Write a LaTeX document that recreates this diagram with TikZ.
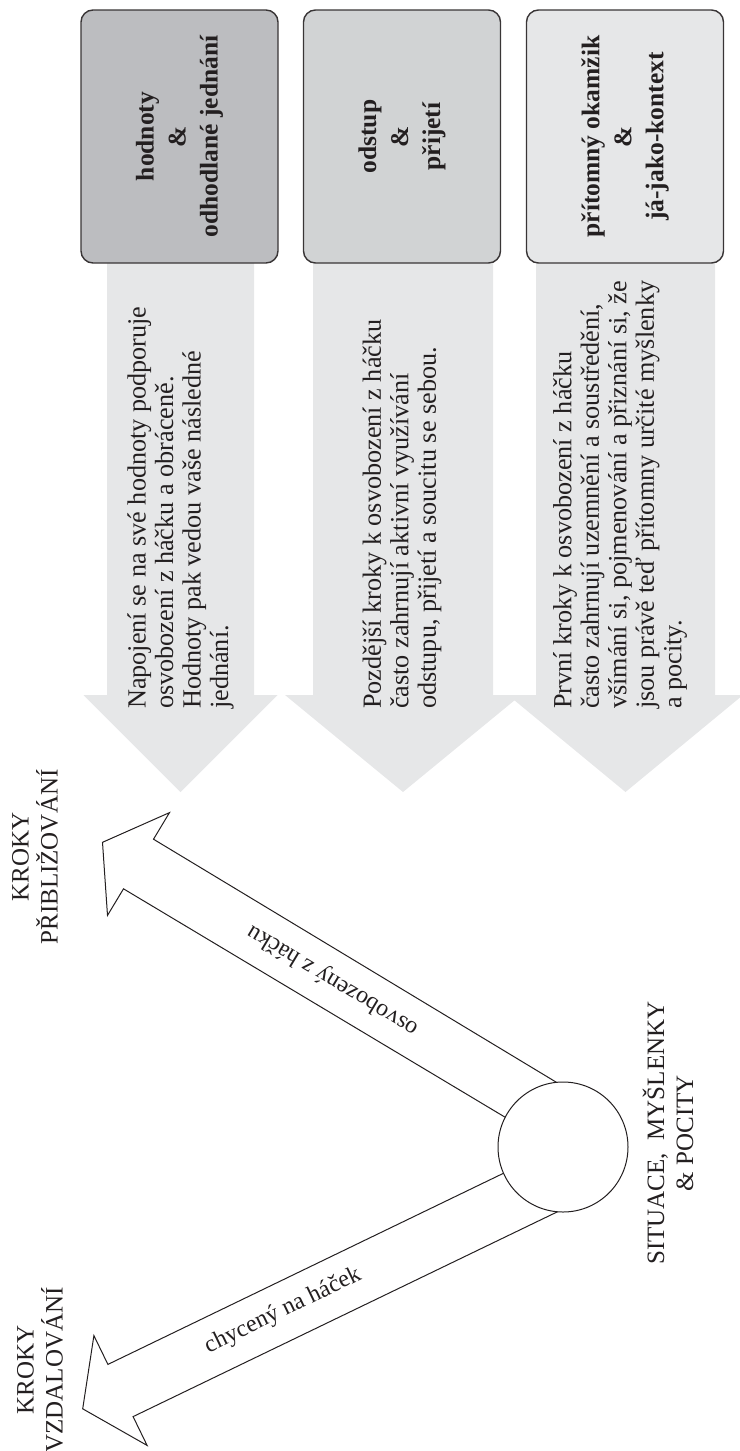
\documentclass[tikz,border=0pt]{standalone}
\usepackage{fontspec}
\setmainfont{Liberation Serif}
\definecolor{boxA}{HTML}{BCBDC0}
\definecolor{boxB}{HTML}{D1D3D4}
\definecolor{boxC}{HTML}{E6E7E8}
\definecolor{arrowfill}{HTML}{E6E7E8}
\definecolor{ink}{HTML}{231F20}
\begin{document}
\begin{tikzpicture}[x=1pt,y=-1pt,
  hbox/.style={draw=ink!90, line width=1.4pt, rounded corners=12pt, rotate=90, minimum width=253pt, minimum height=197pt, inner sep=0pt, align=center, text=ink, font=\fontsize{25.5}{32}\selectfont\bfseries},
  garrow/.style={fill=arrowfill, draw=none},
  body/.style={rotate=90, anchor=west, inner sep=0pt, align=left, text=ink, font=\fontsize{26.2}{27.5}\selectfont},
  oarrow/.style={draw=ink, line width=1pt, line join=miter},
  side/.style={rotate=90, align=center, inner sep=0pt, text=ink, font=\fontsize{25}{29}\selectfont},
  dlabel/.style={inner sep=0pt, text=ink, font=\fontsize{24}{28}\selectfont}]
\useasboundingbox (0,0) rectangle (739,1451);

% grey block arrows
\path[garrow] (107,200) -- (107,695) -- (83.5,695) -- (180.5,792) -- (277.5,695) -- (254,695) -- (254,200) -- cycle;
\path[garrow] (313,200) -- (313,695) -- (285,695) -- (403,792) -- (521,695) -- (493,695) -- (493,200) -- cycle;
\path[garrow] (536,200) -- (536,695) -- (508,695) -- (625.5,792) -- (743,695) -- (715,695) -- (715,200) -- cycle;

% header boxes
\node[hbox, fill=boxA] (b1) at (179.5,136.5) {hodnoty\\\&\\odhodlané jednání};
\node[hbox, fill=boxB] (b2) at (402,136.5) {odstup\\\&\\přijetí};
\node[hbox, fill=boxC] (b3) at (625,136.5) {přítomný okamžik\\\&\\já-jako-kontext};

% texts in the grey arrows
\node[body] (t1) at (180.5,709) {Napojení se na své hodnoty podporuje\\osvobození z háčku a obráceně.\\Hodnoty pak vedou vaše následné\\jednání.};
\node[body] (t2) at (402,709) {Pozdější kroky k osvobození z háčku\\často zahrnují aktivní využívání\\odstupu, přijetí a soucitu se sebou.};
\node[body] (t3) at (620,709) {První kroky k osvobození z háčku\\často zahrnují uzemnění a soustředění,\\všímání si, pojmenování a přiznání si, že\\jsou právě teď přítomny určité myšlenky\\a pocity.};

% outlined arrows
\draw[oarrow] (575,1093.5) -- (153.5,839.2) -- (169.5,812.6) -- (102.5,842.3) -- (107.5,915.4) -- (123.5,888.8) -- (523.8,1128.4);
\draw[oarrow] (522,1164.3) -- (107.9,1364.4) -- (93.9,1335.6) -- (82.7,1408.8) -- (147.1,1445.4) -- (133.1,1416.6) -- (575,1203.3);

\node[circle, draw=ink, line width=1pt, fill=white, minimum size=130pt, inner sep=0pt] (sit) at (563,1147) {};

\node[dlabel, rotate=148.9] (l1) at (333,980) {osvobozený z háčku};
\node[dlabel, rotate=25.8] (l2) at (283,1311) {chycený na háček};

\node[side] (k1) at (40,1370) {KROKY\\VZDALOVÁNÍ};
\node[side] (k2) at (35,857) {KROKY\\PŘIBLIŽOVÁNÍ};
\node[side] (s) at (668,1133) {SITUACE,\ \ MYŠLENKY\\\& POCITY};
\end{tikzpicture}
\end{document}
